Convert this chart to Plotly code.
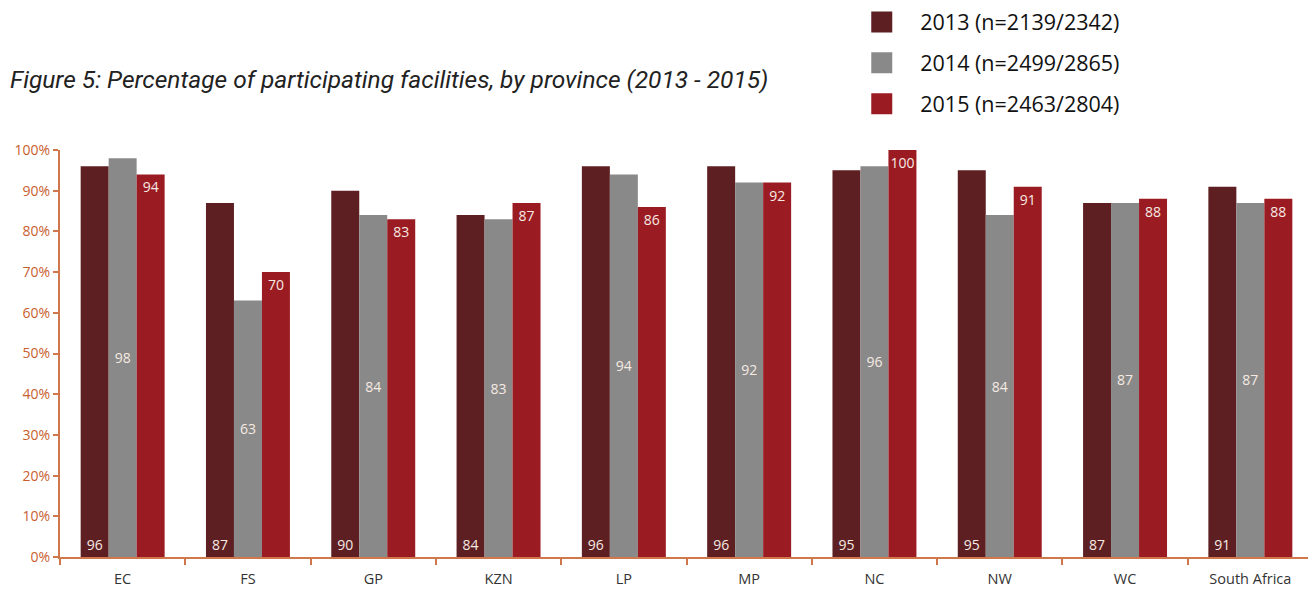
import plotly.graph_objects as go

provinces = ["EC", "FS", "GP", "KZN", "LP", "MP", "NC", "NW", "WC", "South Africa"]
v2013 = [96, 87, 90, 84, 96, 96, 95, 95, 87, 91]
v2014 = [98, 63, 84, 83, 94, 92, 96, 84, 87, 87]
v2015 = [94, 70, 83, 87, 86, 92, 100, 91, 88, 88]
series_names = ["2013 (n=2139/2342)", "2014 (n=2499/2865)", "2015 (n=2463/2804)"]
colors = ["#5E1F22", "#898989", "#9B1B22"]
anchors = ["start", "middle", "end"]
yticks = [0, 10, 20, 30, 40, 50, 60, 70, 80, 90, 100]
ytick_labels = [f"{v}%" for v in yticks]

fig = go.Figure()
for name, vals, col, anc in zip(series_names, [v2013, v2014, v2015], colors, anchors):
    fig.add_trace(go.Bar(
        x=provinces, y=vals, name=name, marker=dict(color=col, line=dict(width=0)),
        text=[str(v) for v in vals], textposition="inside", insidetextanchor=anc,
        textfont=dict(family="Open Sans", size=14, color="#F6EAE2"),
        textangle=0, constraintext="none", showlegend=False, hoverinfo="x+y",
    ))
    fig.add_trace(go.Scatter(
        x=[None], y=[None], mode="markers", name=name, legendgroup=name,
        marker=dict(symbol="square", size=22, color=col, line=dict(color=col, width=5)),
        showlegend=True,
    ))

axis_col = "#D0784C"
fig.update_layout(
    width=1316, height=594,
    margin=dict(l=52, r=11, t=142, b=45, autoexpand=False),
    paper_bgcolor="white", plot_bgcolor="white",
    barmode="group", bargap=0.33, bargroupgap=0,
    font=dict(family="Open Sans", color="#222"),
    legend=dict(x=0.6347, y=1.365, xanchor="left", yanchor="top", yref="paper", xref="container",
                traceorder="grouped", tracegroupgap=10,
                font=dict(family="Open Sans", size=21.5, color="#111"), itemwidth=67,
                bgcolor="rgba(0,0,0,0)"),
    xaxis=dict(showline=True, linecolor=axis_col, linewidth=2, ticks="outside",
               tickson="boundaries", ticklen=6, tickcolor=axis_col, tickwidth=2,
               tickfont=dict(family="Open Sans", size=14.5, color="#333"), showgrid=False,
               zeroline=False, tickangle=0, ticklabelstandoff=8),
    yaxis=dict(range=[0, 100], tickvals=yticks, ticktext=ytick_labels, showline=True,
               linecolor=axis_col, linewidth=2, ticks="outside", ticklen=5,
               tickcolor=axis_col, tickwidth=2, showgrid=False, zeroline=False,
               tickfont=dict(family="Open Sans", size=14, color="#C8602E")),
    annotations=[dict(text="<i>Figure 5: Percentage of participating facilities, by province (2013 - 2015)</i>",
                      xref="paper", yref="paper", x=-0.0415, y=1.172, xanchor="left", yanchor="middle",
                      showarrow=False, font=dict(family="Roboto", size=24.5, color="#222"))],
)
fig.write_html("out.html")
